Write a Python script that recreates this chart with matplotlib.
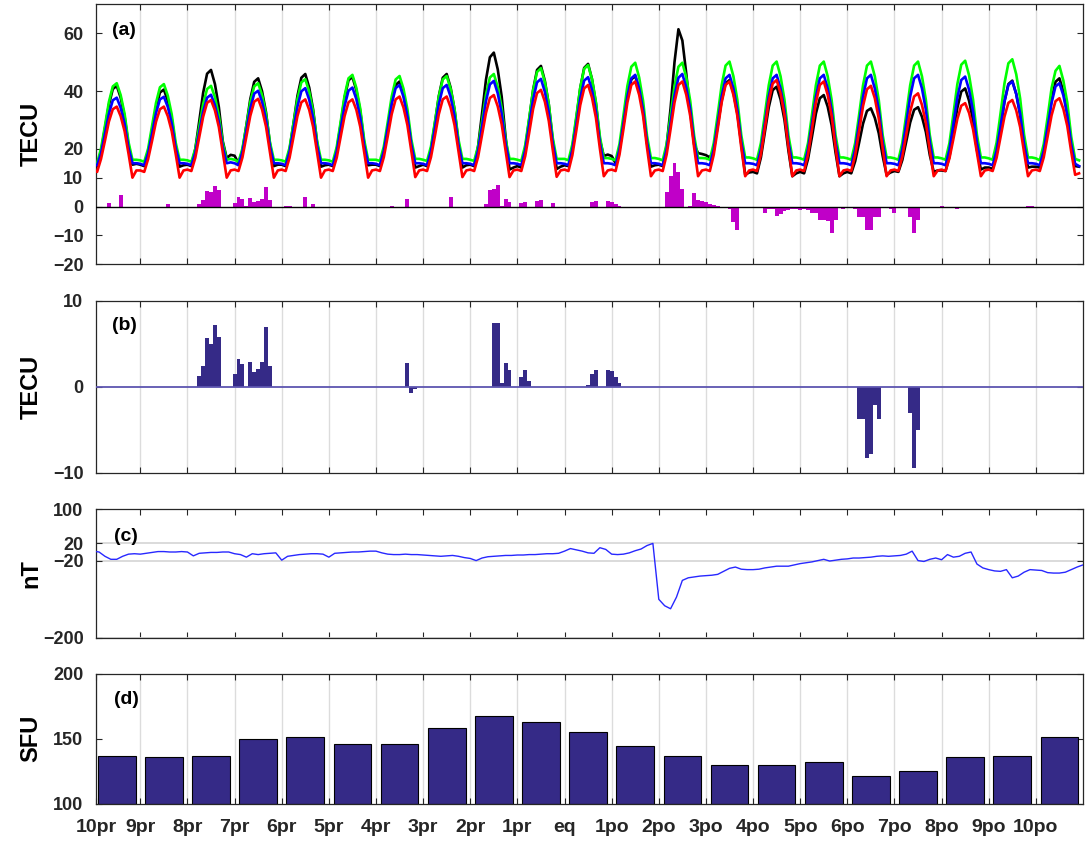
import numpy as np
import matplotlib
matplotlib.use("Agg")
import matplotlib.pyplot as plt

plt.rcParams['font.family'] = ['Liberation Sans', 'DejaVu Sans']
plt.rcParams['font.weight'] = 'bold'
plt.rcParams['axes.labelweight'] = 'bold'

# ---------------- data ----------------
xtick_labels = ['10pr', '9pr', '8pr', '7pr', '6pr', '5pr', '4pr', '3pr', '2pr', '1pr', 'eq',
                '1po', '2po', '3po', '4po', '5po', '6po', '7po', '8po', '9po', '10po']

# (a) TEC, 2-hourly samples (hours 0,2,...,22) for each of the 21 days
tec_obs = [
    [14.5, 14.0, 19.0, 27.0, 35.2, 40.7, 41.8, 37.7, 31.1, 21.2, 14.5, 14.8],
    [14.5, 14.0, 18.8, 26.4, 34.2, 39.5, 40.5, 36.6, 30.3, 20.9, 13.8, 14.3],
    [14.5, 14.0, 19.9, 29.5, 39.4, 46.0, 47.3, 42.4, 34.4, 22.6, 16.8, 17.9],
    [17.6, 15.0, 19.4, 28.1, 37.2, 43.2, 44.4, 39.9, 32.7, 21.8, 14.0, 14.5],
    [14.5, 14.0, 19.7, 28.8, 38.3, 44.6, 45.9, 41.2, 33.6, 22.2, 13.8, 14.3],
    [14.5, 14.0, 19.5, 28.4, 37.6, 43.7, 44.9, 40.3, 33.0, 22.0, 14.3, 14.5],
    [14.5, 14.0, 19.2, 27.6, 36.3, 42.1, 43.3, 39.0, 32.0, 21.6, 13.5, 14.0],
    [14.5, 14.0, 19.7, 28.8, 38.3, 44.6, 45.9, 41.2, 33.6, 22.2, 13.5, 14.3],
    [14.5, 14.0, 20.9, 32.2, 43.9, 51.7, 53.3, 47.5, 38.1, 24.1, 12.8, 13.5],
    [14.0, 13.5, 20.1, 30.1, 40.4, 47.3, 48.7, 43.5, 35.3, 22.9, 13.0, 13.8],
    [14.3, 14.0, 20.3, 30.4, 41.0, 48.0, 49.4, 44.1, 35.7, 23.1, 17.5, 18.0],
    [17.5, 15.0, 19.6, 28.5, 37.8, 44.0, 45.2, 40.6, 33.1, 22.0, 13.8, 14.3],
    [14.5, 14.0, 21.0, 34.0, 50.0, 61.4, 57.5, 46.0, 33.0, 21.5, 18.5, 18.2],
    [17.8, 17.0, 19.5, 27.9, 36.7, 42.6, 43.8, 39.4, 32.3, 21.7, 11.0, 11.8],
    [12.0, 11.5, 17.0, 25.6, 34.4, 40.3, 41.5, 37.1, 30.0, 19.4, 10.5, 11.5],
    [12.0, 11.5, 16.5, 24.2, 32.2, 37.5, 38.6, 34.6, 28.2, 18.7, 10.5, 11.5],
    [12.0, 11.5, 15.7, 22.1, 28.7, 33.1, 34.0, 30.7, 25.4, 17.5, 11.0, 11.8],
    [12.3, 12.0, 16.1, 22.5, 29.1, 33.5, 34.4, 31.1, 25.8, 17.8, 12.0, 12.5],
    [12.5, 12.3, 17.3, 25.6, 34.1, 39.8, 40.9, 36.6, 29.8, 19.6, 12.8, 13.5],
    [13.5, 13.0, 18.2, 27.1, 36.3, 42.4, 43.6, 39.0, 31.7, 20.7, 13.5, 13.8],
    [13.8, 13.5, 18.8, 27.7, 37.0, 43.2, 44.4, 39.8, 32.3, 21.2, 14.0, 13.8],
]
tec_upper = [
    [14.8, 15.0, 20.1, 28.0, 36.2, 41.6, 42.7, 38.6, 32.1, 22.3, 16.2, 16.2],
    [16.0, 15.5, 20.1, 27.9, 35.9, 41.3, 42.4, 38.4, 31.9, 22.2, 16.2, 16.2],
    [16.0, 15.5, 20.0, 27.6, 35.5, 40.7, 41.8, 37.9, 31.5, 22.1, 16.2, 16.5],
    [16.2, 15.5, 20.1, 28.0, 36.2, 41.6, 42.7, 38.6, 32.1, 22.3, 16.2, 16.2],
    [16.0, 15.5, 20.4, 28.7, 37.2, 43.0, 44.1, 39.8, 32.9, 22.7, 16.2, 16.2],
    [16.0, 15.5, 20.6, 29.3, 38.4, 44.4, 45.6, 41.1, 33.9, 23.0, 16.2, 16.2],
    [16.2, 15.8, 20.8, 29.3, 38.1, 44.0, 45.2, 40.8, 33.7, 23.2, 16.5, 16.5],
    [16.2, 15.8, 20.8, 29.3, 38.1, 44.0, 45.2, 40.8, 33.7, 23.2, 16.5, 16.5],
    [16.2, 15.8, 20.9, 29.6, 38.7, 44.7, 45.9, 41.4, 34.2, 23.3, 16.5, 16.5],
    [16.2, 15.8, 21.3, 30.6, 40.2, 46.6, 47.9, 43.1, 35.4, 23.8, 16.5, 16.5],
    [16.5, 16.0, 21.6, 31.2, 41.1, 47.7, 49.0, 44.1, 36.1, 24.3, 16.8, 16.8],
    [16.5, 16.0, 21.7, 31.5, 41.7, 48.4, 49.8, 44.7, 36.6, 24.5, 16.8, 16.8],
    [16.5, 16.0, 21.7, 31.5, 41.7, 48.4, 49.8, 44.7, 36.6, 24.5, 16.8, 16.8],
    [16.7, 16.2, 22.0, 31.8, 42.0, 48.8, 50.2, 45.1, 36.9, 24.7, 17.0, 17.0],
    [16.7, 16.2, 22.0, 31.8, 42.0, 48.8, 50.2, 45.1, 36.9, 24.7, 17.0, 17.0],
    [16.7, 16.2, 22.0, 31.8, 42.0, 48.8, 50.2, 45.1, 36.9, 24.7, 17.0, 17.0],
    [16.7, 16.2, 22.0, 31.8, 42.0, 48.8, 50.2, 45.1, 36.9, 24.7, 17.0, 17.0],
    [16.7, 16.2, 22.0, 31.8, 42.0, 48.8, 50.2, 45.1, 36.9, 24.7, 17.0, 17.0],
    [16.7, 16.2, 22.0, 32.0, 42.3, 49.1, 50.5, 45.4, 37.1, 24.8, 17.0, 17.0],
    [16.7, 16.2, 22.1, 32.2, 42.6, 49.6, 51.0, 45.8, 37.4, 24.9, 17.0, 17.0],
    [16.7, 16.0, 21.6, 31.0, 41.0, 47.0, 48.7, 43.6, 36.0, 24.2, 16.5, 16.0],
]
tec_median = [
    [14.2, 14.3, 18.4, 25.2, 32.1, 36.8, 37.7, 34.2, 28.7, 20.3, 15.0, 15.0],
    [14.8, 14.3, 18.5, 25.3, 32.4, 37.1, 38.0, 34.5, 28.8, 20.4, 15.0, 15.0],
    [14.8, 14.3, 18.6, 25.6, 32.9, 37.7, 38.7, 35.1, 29.3, 20.6, 15.0, 15.3],
    [15.0, 14.3, 18.9, 26.3, 34.0, 39.1, 40.1, 36.3, 30.1, 20.9, 15.0, 15.0],
    [14.8, 14.3, 19.0, 26.7, 34.6, 39.9, 41.0, 37.0, 30.7, 21.1, 15.0, 15.0],
    [14.8, 14.3, 19.0, 26.8, 34.8, 40.1, 41.2, 37.2, 30.8, 21.2, 15.0, 15.0],
    [14.8, 14.3, 19.2, 27.2, 35.5, 41.0, 42.1, 38.0, 31.3, 21.4, 15.0, 15.0],
    [14.8, 14.3, 19.2, 27.2, 35.5, 41.0, 42.1, 38.0, 31.3, 21.4, 15.0, 15.0],
    [14.8, 14.3, 19.4, 27.8, 36.5, 42.3, 43.5, 39.2, 32.2, 21.8, 15.0, 15.0],
    [14.8, 14.3, 19.5, 28.2, 37.1, 43.0, 44.2, 39.7, 32.6, 21.9, 15.0, 15.0],
    [14.8, 14.3, 19.7, 28.4, 37.5, 43.6, 44.8, 40.3, 33.0, 22.1, 15.0, 15.0],
    [14.8, 14.3, 19.8, 28.8, 38.1, 44.4, 45.6, 40.9, 33.5, 22.3, 15.0, 15.0],
    [14.8, 14.3, 19.8, 28.9, 38.4, 44.6, 45.9, 41.2, 33.7, 22.4, 15.0, 15.0],
    [14.8, 14.3, 19.8, 28.8, 38.1, 44.4, 45.6, 40.9, 33.5, 22.3, 15.0, 15.0],
    [14.8, 14.3, 19.8, 28.8, 38.1, 44.4, 45.6, 40.9, 33.5, 22.3, 15.0, 15.0],
    [14.8, 14.3, 19.8, 28.8, 38.1, 44.4, 45.6, 40.9, 33.5, 22.3, 15.0, 15.0],
    [14.8, 14.3, 19.8, 28.8, 38.1, 44.4, 45.6, 40.9, 33.5, 22.3, 15.0, 15.0],
    [14.8, 14.3, 19.8, 28.8, 38.1, 44.4, 45.6, 40.9, 33.5, 22.3, 15.0, 15.0],
    [14.8, 14.3, 19.7, 28.5, 37.7, 43.8, 45.0, 40.4, 33.1, 22.1, 15.0, 15.0],
    [14.8, 14.3, 19.4, 27.7, 36.4, 42.1, 43.3, 39.0, 32.1, 21.7, 15.0, 15.0],
    [14.8, 14.3, 19.3, 27.5, 35.9, 41.6, 42.7, 38.5, 31.7, 21.6, 14.8, 14.0],
]
tec_lower = [
    [13.0, 12.0, 16.5, 22.8, 29.4, 33.7, 34.6, 31.3, 26.1, 18.3, 10.0, 12.5],
    [12.5, 12.0, 16.5, 22.8, 29.4, 33.7, 34.6, 31.3, 26.1, 18.3, 10.0, 12.5],
    [12.8, 12.3, 16.9, 23.9, 31.1, 35.9, 36.9, 33.3, 27.5, 18.8, 10.0, 12.5],
    [12.8, 12.3, 17.0, 24.1, 31.4, 36.3, 37.3, 33.6, 27.7, 18.9, 10.0, 12.5],
    [12.8, 12.3, 16.9, 24.0, 31.3, 36.1, 37.1, 33.5, 27.6, 18.9, 10.0, 12.5],
    [12.8, 12.3, 16.9, 24.0, 31.3, 36.1, 37.1, 33.5, 27.6, 18.9, 10.0, 12.5],
    [12.8, 12.3, 17.1, 24.4, 32.0, 37.1, 38.1, 34.3, 28.2, 19.1, 10.2, 12.5],
    [12.8, 12.3, 17.1, 24.4, 32.0, 37.1, 38.1, 34.3, 28.2, 19.1, 10.2, 12.5],
    [12.8, 12.3, 17.2, 24.7, 32.4, 37.6, 38.6, 34.7, 28.5, 19.3, 10.2, 12.5],
    [12.8, 12.3, 17.5, 25.5, 33.8, 39.3, 40.4, 36.3, 29.6, 19.7, 10.3, 12.5],
    [12.8, 12.3, 17.8, 26.3, 35.1, 40.9, 42.1, 37.7, 30.7, 20.1, 10.5, 12.5],
    [12.8, 12.3, 18.0, 26.8, 36.0, 42.1, 43.3, 38.7, 31.4, 20.4, 10.5, 12.5],
    [12.8, 12.3, 18.0, 26.8, 36.0, 42.1, 43.3, 38.7, 31.4, 20.4, 10.5, 12.5],
    [12.8, 12.3, 18.0, 26.8, 36.0, 42.1, 43.3, 38.7, 31.4, 20.4, 10.5, 12.5],
    [12.8, 12.3, 18.1, 27.1, 36.4, 42.6, 43.8, 39.2, 31.7, 20.6, 10.5, 12.5],
    [12.8, 12.3, 18.0, 26.8, 36.0, 42.1, 43.3, 38.7, 31.4, 20.4, 10.5, 12.5],
    [12.8, 12.3, 17.7, 26.1, 34.8, 40.6, 41.8, 37.5, 30.5, 20.1, 10.5, 12.5],
    [12.8, 12.3, 17.3, 24.9, 32.9, 38.1, 39.2, 35.2, 28.9, 19.4, 10.5, 12.5],
    [12.8, 12.3, 16.7, 23.4, 30.3, 34.9, 35.8, 32.4, 26.8, 18.6, 10.5, 12.5],
    [12.8, 12.3, 16.9, 23.9, 31.1, 35.9, 36.9, 33.3, 27.5, 18.8, 10.5, 12.5],
    [12.8, 12.3, 17.0, 24.2, 31.6, 36.5, 37.5, 33.8, 27.9, 19.0, 11.0, 11.5],
]

# (a) deviation bars: centre hour (from start) and value, 2-hour bins
dev_hours = [8, 14, 38,
             54, 56, 58, 60, 62, 64,
             72, 74, 76, 78, 80, 82, 84, 86, 88, 90,
             98, 100, 108, 112, 122, 152,
             160, 162, 164, 182, 194, 196,
             200, 202, 204, 206, 208, 210, 212, 218, 220, 226, 228, 234,
             254, 256, 262, 264, 266, 268,
             292, 294, 296, 298, 300,
             304, 306, 308, 310, 312, 314, 316, 318,
             324, 326, 328, 330,
             342, 344, 346, 348, 350, 352, 354, 356, 358, 360, 362, 364,
             366, 368, 370, 372, 374, 376, 378, 380, 382,
             388, 390, 392, 394, 396, 398, 400,
             406, 408, 416, 418, 420, 432, 440, 456, 476, 478]
dev_values = [1.4, 4.0, 1.0,
              1.0, 2.4, 5.4, 5.0, 7.0, 5.7,
              1.3, 3.2, 2.5, 0.3, 2.8, 1.6, 1.9, 2.7, 6.8, 2.4,
              0.3, 0.3, 3.3, 0.9, -0.4, 0.2,
              2.6, -0.6, -0.3, 3.3, -0.3, -0.3,
              0.8, 5.8, 6.0, 7.3, 0.3, 2.5, 1.7, 1.1, 1.7, 2.0, 2.3, 1.1,
              1.5, 1.8, 2.0, 1.7, 1.0, 0.3,
              5.2, 10.5, 15.2, 12.0, 6.0,
              0.3, 4.8, 2.3, 2.0, 1.5, 0.9, 0.5, 0.3,
              -1.0, -5.2, -8.1, -0.6,
              -2.3, -0.8, -1.0, -3.2, -2.5, -1.5, -1.3, -1.0, -1.0, -1.2, -1.0, -1.2,
              -2.3, -2.3, -4.6, -4.6, -5.0, -9.0, -4.6, -0.6, -1.0,
              -1.0, -3.5, -3.5, -8.1, -8.1, -3.5, -3.5,
              -1.0, -2.1, -3.5, -9.2, -4.6, 0.2, -0.7, -0.4, 0.3, 0.3]

# (b) TEC anomaly beyond bounds, 2-hour bins
anom_hours = [54, 56, 58, 60, 62, 64,
              72, 74, 76, 80, 82, 84, 86, 88, 90,
              160, 162, 164,
              204, 206, 208, 210, 212, 218, 220, 222,
              252, 254, 256, 262, 264, 266, 268,
              390, 392, 394, 396, 398, 400,
              416, 418, 420]
anom_values = [1.2, 2.4, 5.6, 5.0, 7.1, 5.7,
               1.5, 3.2, 2.6, 2.9, 1.7, 2.0, 2.8, 6.9, 2.4,
               2.7, -0.7, -0.3,
               7.4, 7.4, 0.4, 2.7, 1.9, 1.1, 1.9, 0.6,
               0.2, 1.5, 1.9, 1.9, 1.8, 1.1, 0.4,
               -3.8, -3.8, -8.3, -7.9, -2.1, -3.8,
               -3.1, -9.5, -5.0]

# (c) Dst index, 3-hourly (8 per day) plus final value
dst = [
    2, 0, -10, -17, -17, -10, -5, -4,
    -5, -3, -1, 1, 1, 0, 0, 1,
    0, -9, -3, -2, -1, -1, 0, 0,
    -4, -6, -12, -4, -6, -4, -3, -2,
    -19, -10, -8, -6, -5, -4, -4, -5,
    -12, -3, -2, -1, 0, 0, 1, 2,
    2, -2, -5, -6, -6, -5, -6, -6,
    -7, -8, -9, -10, -9, -8, -10, -13,
    -15, -20, -14, -11, -10, -9, -8, -8,
    -7, -7, -6, -6, -5, -4, -4, -3,
    2, 8, 5, 2, -2, -3, 10, 6,
    -5, -6, -5, -2, 3, 7, 15, 20,
    -110, -125, -132, -105, -66, -60, -58, -56,
    -55, -54, -52, -45, -38, -35, -40, -41,
    -41, -40, -37, -35, -33, -33, -33, -30,
    -27, -25, -23, -20, -17, -21, -19, -17,
    -16, -14, -14, -13, -12, -10, -9, -10,
    -9, -8, -5, 2, -20, -22, -17, -14,
    -18, -6, -12, -10, -3, 0, -28, -37,
    -41, -44, -45, -41, -60, -56, -47, -41,
    -42, -43, -48, -49, -49, -47, -41, -35,
    -30,
]

# (d) daily F10.7 solar flux
f107 = [137, 136, 137, 150, 151, 146, 146, 158, 167, 163, 155,
        144, 137, 130, 130, 132, 121, 125, 136, 137, 151]

# ---------------- figure ----------------
W, H = 1086, 848
fig = plt.figure(figsize=(W / 100, H / 100), dpi=100)
L, R = 96, 1083


def add_ax(top, bottom):
    return fig.add_axes([L / W, 1 - bottom / H, (R - L) / W, (bottom - top) / H])


axA = add_ax(4.4, 264.3)
axB = add_ax(300.5, 472.5)
axC = add_ax(509, 638)
axD = add_ax(673.5, 803.7)

X0, X1 = 0.06, 21.0
SPINE = '#262626'
GRID = '#DCDCDC'
NAVY = '#352A87'


def style(ax, xgrid=True):
    ax.set_xlim(X0, X1)
    ax.set_xticks(np.arange(1, 21))
    ax.set_xticklabels([])
    ax.tick_params(direction='in', length=4, width=0.8, top=True, right=True,
                   colors=SPINE, labelsize=13, pad=9)
    for s in ax.spines.values():
        s.set_color(SPINE)
        s.set_linewidth(0.9)
    if xgrid:
        ax.grid(axis='x', color=GRID, lw=1.0)
    ax.set_axisbelow(True)


# (a)
t_hours = np.arange(21 * 12) * 2
t_days = t_hours / 24.0
obs = np.concatenate(tec_obs)
upp = np.concatenate(tec_upper)
med = np.concatenate(tec_median)
low = np.concatenate(tec_lower)
style(axA)
axA.bar(np.array(dev_hours) / 24.0, dev_values, width=2 / 24.0, color='#C000C8',
        edgecolor='none', zorder=2)
axA.axhline(0, color='black', lw=1.0, zorder=3)
axA.plot(t_days, obs, color='black', lw=1.9, zorder=4)
axA.plot(t_days, upp, color='#00FF00', lw=1.9, zorder=5)
axA.plot(t_days, med, color='#0000FF', lw=1.9, zorder=6)
axA.plot(t_days, low, color='#FF0000', lw=1.9, zorder=7)
axA.set_ylim(-20, 70)
axA.set_yticks([-20, -10, 0, 10, 20, 40, 60])
axA.set_ylabel('TECU', fontsize=17)
axA.text(0.016, 0.90, '(a)', transform=axA.transAxes, fontsize=14, va='center', ha='left')

# (b)
style(axB)
axB.bar(np.array(anom_hours) / 24.0, anom_values, width=2 / 24.0, color=NAVY,
        edgecolor='none', zorder=2)
axB.axhline(0, color='#5D55B0', lw=1.3, zorder=3)
axB.set_ylim(-10, 10)
axB.set_yticks([-10, 0, 10])
axB.set_ylabel('TECU', fontsize=17)
axB.text(0.016, 0.857, '(b)', transform=axB.transAxes, fontsize=14, va='center', ha='left')

# (c)
style(axC, xgrid=False)
dst_days = np.arange(len(dst)) / 8.0
axC.grid(axis='y', color='#D8D8D8', lw=1.3)
axC.plot(dst_days, dst, color='#2828FF', lw=1.0, zorder=3)
axC.set_ylim(-200, 100)
axC.set_yticks([-200, -20, 20, 100])
axC.set_ylabel('nT', fontsize=17)
axC.text(0.018, 0.79, '(c)', transform=axC.transAxes, fontsize=14, va='center', ha='left')

# (d)
style(axD)
day_idx = np.arange(len(f107))
axD.bar(day_idx + 0.5, np.array(f107) - 100, bottom=100, width=0.8, color=NAVY,
        edgecolor='black', linewidth=0.8, zorder=2)
axD.set_ylim(100, 200)
axD.set_yticks([100, 150, 200])
axD.set_ylabel('SFU', fontsize=17)
axD.text(0.018, 0.80, '(d)', transform=axD.transAxes, fontsize=14, va='center', ha='left')
axD.set_xticks([X0] + list(range(1, 21)))
axD.set_xticklabels(xtick_labels, fontsize=14)
axD.tick_params(axis='x', pad=11)

for ax in (axA, axB, axC, axD):
    ax.yaxis.set_label_coords(-0.054, 0.5)

fig.savefig('out.png', dpi=100, facecolor='white')
